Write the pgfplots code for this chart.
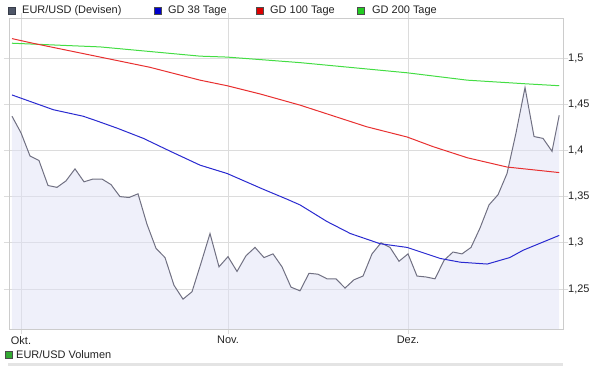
\documentclass[border=0pt]{standalone}
\usepackage{pgfplots}
\pgfplotsset{compat=1.18}
\usepackage{fontspec}
\setmainfont{Liberation Sans}
\definecolor{gridc}{HTML}{DCDCDC}
\definecolor{borderc}{HTML}{CCCCCC}
\definecolor{labelc}{HTML}{222222}
\definecolor{fxline}{HTML}{707082}
\definecolor{fxfill}{HTML}{DFE1F5}
\definecolor{fxsq}{HTML}{4E5668}
\definecolor{maA}{HTML}{2A2AD0}
\definecolor{maB}{HTML}{E83030}
\definecolor{maC}{HTML}{44DD44}
\definecolor{sqA}{HTML}{0000CC}
\definecolor{sqB}{HTML}{DD0000}
\definecolor{sqC}{HTML}{22CC22}
\definecolor{volsq}{HTML}{33AA33}
\definecolor{bandc}{HTML}{E4E4E4}
\begin{document}
\begin{tikzpicture}
\useasboundingbox (-9bp,-37bp) rectangle (599bp,329bp);
\begin{axis}[
  at={(0,0)}, anchor=south west,
  scale only axis, width=554bp, height=311bp,
  xmin=-1.333, xmax=60.22, ymin=1.2067, ymax=1.5433,
  xtick={0,23,43}, xticklabels={Okt.,Nov.,Dez.},
  ytick={1.25,1.3,1.35,1.4,1.45,1.5},
  yticklabels={{1,25},{1,3},{1,35},{1,4},{1,45},{1,5}},
  yticklabel pos=right,
  grid=major, grid style={draw=gridc, line width=0.8bp},
  axis line style={draw=borderc, line width=0.8bp},
  tick style={draw=gridc, line width=0.8bp},
  tick align=outside, major tick length=5bp,
  tick label style={font=\fontsize{11}{13}\selectfont, text=labelc},
  xticklabel style={anchor=north, inner sep=0pt, yshift=-2bp},
  yticklabel style={anchor=west, inner sep=0pt, xshift=0bp},
  clip=true,
]
\addplot[fill=fxfill, fill opacity=0.5, draw=none] coordinates {
(-1,1.437) (0,1.419) (1,1.394) (2,1.389) (3,1.362) (4,1.360) (5,1.367) (6,1.380)
(7,1.366) (8,1.369) (9,1.369) (10,1.363) (11,1.350) (12,1.349) (13,1.353) (14,1.320)
(15,1.294) (16,1.284) (17,1.254) (18,1.239) (19,1.247) (20,1.278) (21,1.310) (22,1.274)
(23,1.285) (24,1.269) (25,1.286) (26,1.295) (27,1.284) (28,1.288) (29,1.274) (30,1.252)
(31,1.248) (32,1.267) (33,1.266) (34,1.261) (35,1.261) (36,1.251) (37,1.260) (38,1.264)
(39,1.288) (40,1.300) (41,1.295) (42,1.280) (43,1.288) (44,1.264) (45,1.263) (46,1.261)
(47,1.281) (48,1.290) (49,1.288) (50,1.295) (51,1.316) (52,1.341) (53,1.352) (54,1.375)
(55,1.419) (56,1.468) (57,1.415) (58,1.413) (59,1.399) (59.8,1.438)
} \closedcycle;
\addplot[draw=fxline, line width=1bp] coordinates {
(-1,1.437) (0,1.419) (1,1.394) (2,1.389) (3,1.362) (4,1.360) (5,1.367) (6,1.380)
(7,1.366) (8,1.369) (9,1.369) (10,1.363) (11,1.350) (12,1.349) (13,1.353) (14,1.320)
(15,1.294) (16,1.284) (17,1.254) (18,1.239) (19,1.247) (20,1.278) (21,1.310) (22,1.274)
(23,1.285) (24,1.269) (25,1.286) (26,1.295) (27,1.284) (28,1.288) (29,1.274) (30,1.252)
(31,1.248) (32,1.267) (33,1.266) (34,1.261) (35,1.261) (36,1.251) (37,1.260) (38,1.264)
(39,1.288) (40,1.300) (41,1.295) (42,1.280) (43,1.288) (44,1.264) (45,1.263) (46,1.261)
(47,1.281) (48,1.290) (49,1.288) (50,1.295) (51,1.316) (52,1.341) (53,1.352) (54,1.375)
(55,1.419) (56,1.468) (57,1.415) (58,1.413) (59,1.399) (59.8,1.438)
};
\addplot[draw=maC, line width=1bp] coordinates {
(-1,1.516) (8.8,1.512) (19.9,1.502) (22.9,1.501) (31,1.495) (42.9,1.484) (49.6,1.476) (56.2,1.472) (59.8,1.470)
};
\addplot[draw=maB, line width=1bp] coordinates {
(-1,1.521) (1.3,1.516) (8.8,1.501) (14.3,1.490) (19.9,1.476) (22.9,1.470) (26.6,1.461) (31,1.449)
(38.4,1.4256) (42.9,1.4145) (45.8,1.404) (49.6,1.392) (54,1.382) (59.8,1.376)
};
\addplot[draw=maA, line width=1bp] coordinates {
(-1,1.460) (1.3,1.452) (3.6,1.444) (6.9,1.437) (8.4,1.432) (10.7,1.424) (13.6,1.413) (16.6,1.399)
(19.9,1.384) (22.9,1.375) (26.9,1.358) (29.6,1.347) (31,1.341) (34,1.323) (36.6,1.310) (39.9,1.299)
(42.9,1.295) (46.6,1.283) (48.8,1.279) (51.8,1.277) (54.3,1.284) (55.8,1.292) (59.8,1.308)
};
\end{axis}
% top legend
\begin{scope}[font=\fontsize{11}{13}\selectfont]
\filldraw[fill=fxsq, draw=fxsq!70!black] (-0.5bp,314.5bp) rectangle (6.5bp,321.5bp);
\node[anchor=west, inner sep=0pt, text=labelc] at (13bp,318bp) {EUR/USD (Devisen)};
\filldraw[fill=sqA, draw=black!70] (145bp,314.5bp) rectangle (152bp,321.5bp);
\node[anchor=west, inner sep=0pt, text=labelc] at (159bp,318bp) {GD 38 Tage};
\filldraw[fill=sqB, draw=black!70] (247bp,314.5bp) rectangle (254bp,321.5bp);
\node[anchor=west, inner sep=0pt, text=labelc] at (261bp,318bp) {GD 100 Tage};
\filldraw[fill=sqC, draw=black!70] (348bp,314.5bp) rectangle (355bp,321.5bp);
\node[anchor=west, inner sep=0pt, text=labelc] at (363bp,318bp) {GD 200 Tage};
% volume legend
\filldraw[fill=volsq, draw=black!70] (-4bp,-29.5bp) rectangle (3bp,-22.5bp);
\node[anchor=west, inner sep=0pt, text=labelc] at (7bp,-26bp) {EUR/USD Volumen};
\fill[bandc] (-1bp,-37bp) rectangle (554bp,-33.5bp);
\end{scope}
\end{tikzpicture}
\end{document}
